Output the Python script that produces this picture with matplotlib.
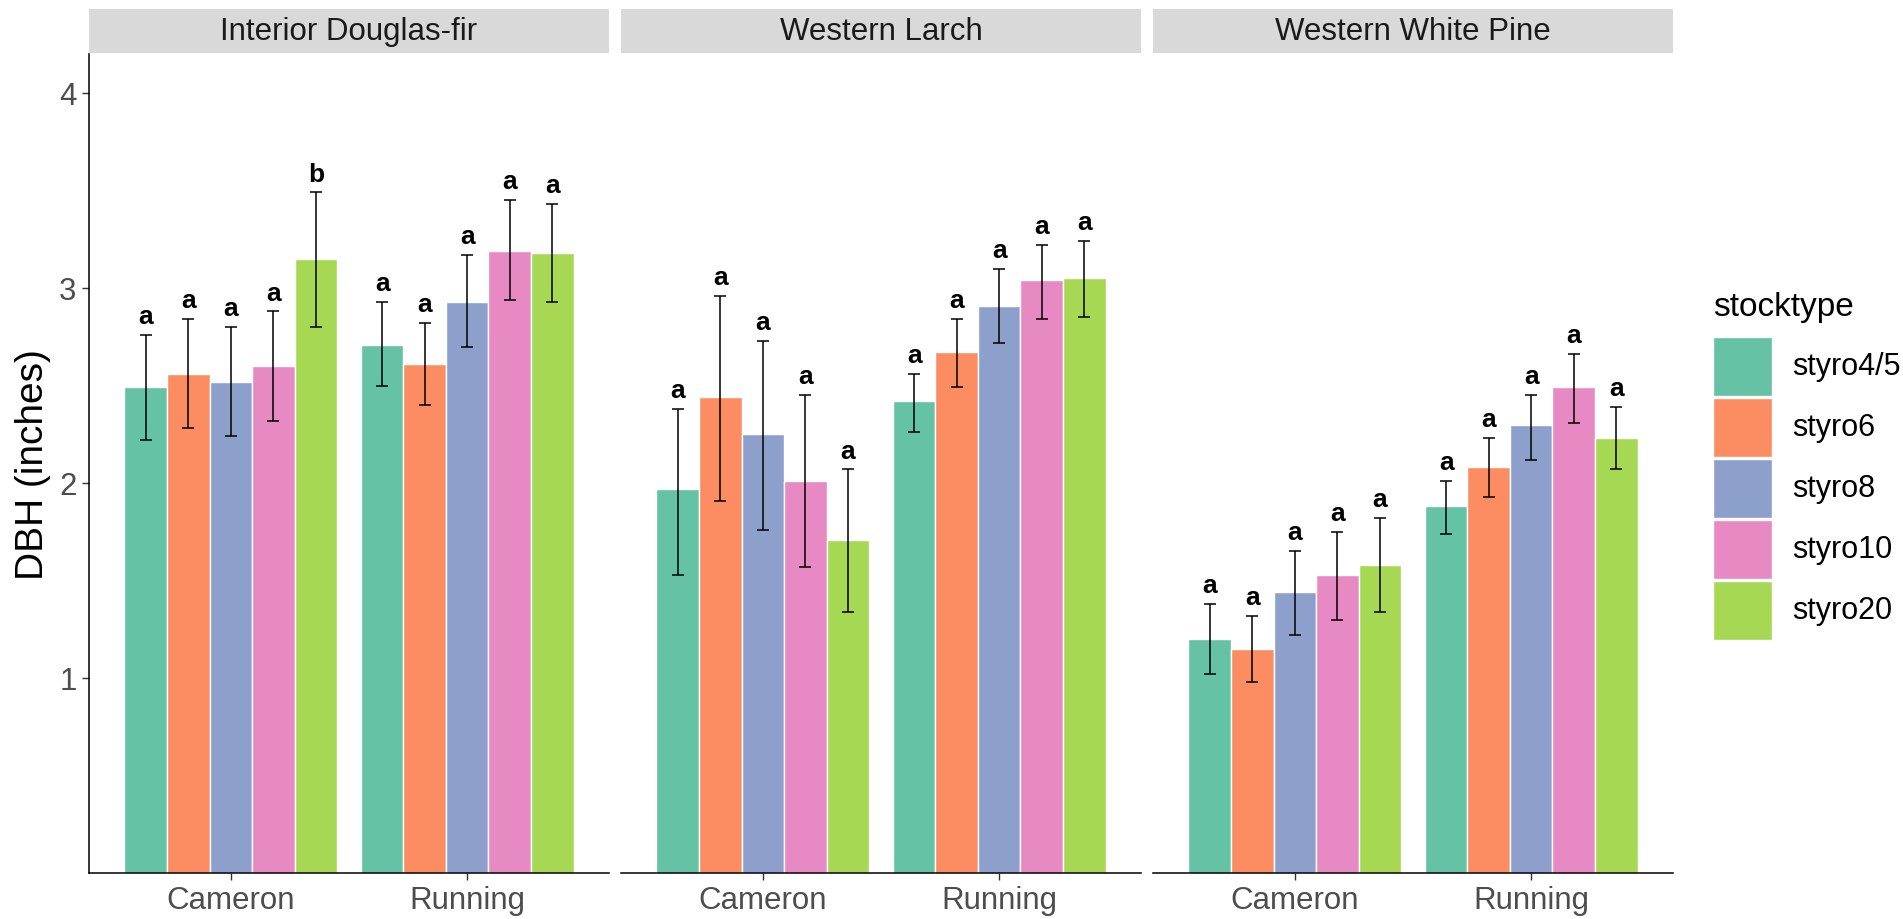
import matplotlib
matplotlib.use("Agg")
import matplotlib.pyplot as plt
from matplotlib.patches import Rectangle
import numpy as np

plt.rcParams["font.family"] = ["Liberation Sans", "DejaVu Sans"]

species = ["Interior Douglas-fir", "Western Larch", "Western White Pine"]
sites = ["Cameron", "Running"]
stocktypes = ["styro4/5", "styro6", "styro8", "styro10", "styro20"]
colors = ["#66C2A5", "#FC8D62", "#8DA0CB", "#E78AC3", "#A6D854"]

# mean DBH per species -> site -> stocktype
dbh_mean = {
    "Interior Douglas-fir": [[2.49, 2.56, 2.52, 2.60, 3.15],
                             [2.71, 2.61, 2.93, 3.19, 3.18]],
    "Western Larch": [[1.97, 2.44, 2.25, 2.01, 1.71],
                      [2.42, 2.67, 2.91, 3.04, 3.05]],
    "Western White Pine": [[1.20, 1.15, 1.44, 1.53, 1.58],
                           [1.88, 2.08, 2.30, 2.49, 2.23]],
}
dbh_low = {
    "Interior Douglas-fir": [[2.22, 2.28, 2.24, 2.32, 2.80],
                             [2.50, 2.40, 2.70, 2.94, 2.93]],
    "Western Larch": [[1.53, 1.91, 1.76, 1.57, 1.34],
                      [2.26, 2.49, 2.72, 2.84, 2.85]],
    "Western White Pine": [[1.02, 0.98, 1.22, 1.30, 1.34],
                           [1.74, 1.93, 2.12, 2.31, 2.07]],
}
dbh_high = {
    "Interior Douglas-fir": [[2.76, 2.84, 2.80, 2.88, 3.49],
                             [2.93, 2.82, 3.17, 3.45, 3.43]],
    "Western Larch": [[2.38, 2.96, 2.73, 2.45, 2.07],
                      [2.56, 2.84, 3.10, 3.22, 3.24]],
    "Western White Pine": [[1.38, 1.32, 1.65, 1.75, 1.82],
                           [2.01, 2.23, 2.45, 2.66, 2.39]],
}
letters = {
    "Interior Douglas-fir": [["a", "a", "a", "a", "b"], ["a", "a", "a", "a", "a"]],
    "Western Larch": [["a", "a", "a", "a", "a"], ["a", "a", "a", "a", "a"]],
    "Western White Pine": [["a", "a", "a", "a", "a"], ["a", "a", "a", "a", "a"]],
}

W, H = 1903, 920
fig = plt.figure(figsize=(W / 100, H / 100), dpi=100)


def px_box(x0, y0, x1, y1):
    # pixel box (top-left origin) -> figure fraction [l, b, w, h]
    return [x0 / W, 1 - y1 / H, (x1 - x0) / W, (y1 - y0) / H]


panel_left = [89, 621, 1153]
panel_w = 520
top, bottom = 55, 874
strip_top = 10

n = len(stocktypes)
bw = 0.9 / n
offsets = (np.arange(n) - (n - 1) / 2) * bw
x = np.arange(len(sites)) + 1

for p, sp in enumerate(species):
    l = panel_left[p]
    ax = fig.add_axes(px_box(l, top, l + panel_w, bottom))
    for i in range(n):
        means = np.array([dbh_mean[sp][s][i] for s in range(len(sites))])
        lows = np.array([dbh_low[sp][s][i] for s in range(len(sites))])
        highs = np.array([dbh_high[sp][s][i] for s in range(len(sites))])
        xs = x + offsets[i]
        ax.bar(xs, means, width=bw, color=colors[i], edgecolor="white",
               linewidth=1.0, zorder=2)
        ax.errorbar(xs, means, yerr=[means - lows, highs - means], fmt="none",
                    ecolor="black", elinewidth=1.1, capsize=4.2,
                    capthick=1.1, zorder=3)
        for s in range(len(sites)):
            ax.text(xs[s], highs[s] + 0.035, letters[sp][s][i], ha="center",
                    va="bottom", fontsize=19, fontweight="bold", color="black")

    ax.set_xlim(0.4, 2.6)
    ax.set_ylim(0, 4.2)
    ax.set_xticks(x)
    ax.set_xticklabels(sites)
    ax.tick_params(axis="x", length=5, width=1.0, color="#333333",
                   labelsize=22.5, labelcolor="#4D4D4D", pad=4)
    for side in ["top", "right"]:
        ax.spines[side].set_visible(False)
    ax.spines["bottom"].set_linewidth(1.1)
    if p == 0:
        ax.set_yticks([1, 2, 3, 4])
        ax.tick_params(axis="y", length=5, width=1.0, color="#333333",
                       labelsize=22.5, labelcolor="#4D4D4D", pad=4)
        ax.spines["left"].set_linewidth(1.1)
        ax.set_ylabel("DBH (inches)", fontsize=28, color="black", labelpad=6)
    else:
        ax.set_yticks([])
        ax.spines["left"].set_visible(False)

    # facet strip
    sax = fig.add_axes(px_box(l, strip_top, l + panel_w, top - 1))
    sax.set_facecolor("#D9D9D9")
    sax.set_xticks([])
    sax.set_yticks([])
    for sp_name in sax.spines.values():
        sp_name.set_visible(False)
    sax.text(0.5, 0.5, sp, ha="center", va="center", fontsize=22.5,
             color="#1A1A1A", transform=sax.transAxes)

# legend drawn in pixel space
lax = fig.add_axes([0, 0, 1, 1], facecolor="none")
lax.set_xlim(0, W)
lax.set_ylim(H, 0)
lax.axis("off")
lax.text(1713, 308, "stocktype", fontsize=24, va="center", ha="left",
         color="black")
key_top, key_h, key_pitch = 338, 59, 61
for i, (name, col) in enumerate(zip(stocktypes, colors)):
    y0 = key_top + i * key_pitch
    lax.add_patch(Rectangle((1713, y0), 59, key_h, facecolor=col,
                            edgecolor="white", linewidth=1.0))
    lax.text(1792, y0 + key_h / 2, name, fontsize=22, va="center",
             ha="left", color="black")

fig.savefig("out.png", dpi=100)
